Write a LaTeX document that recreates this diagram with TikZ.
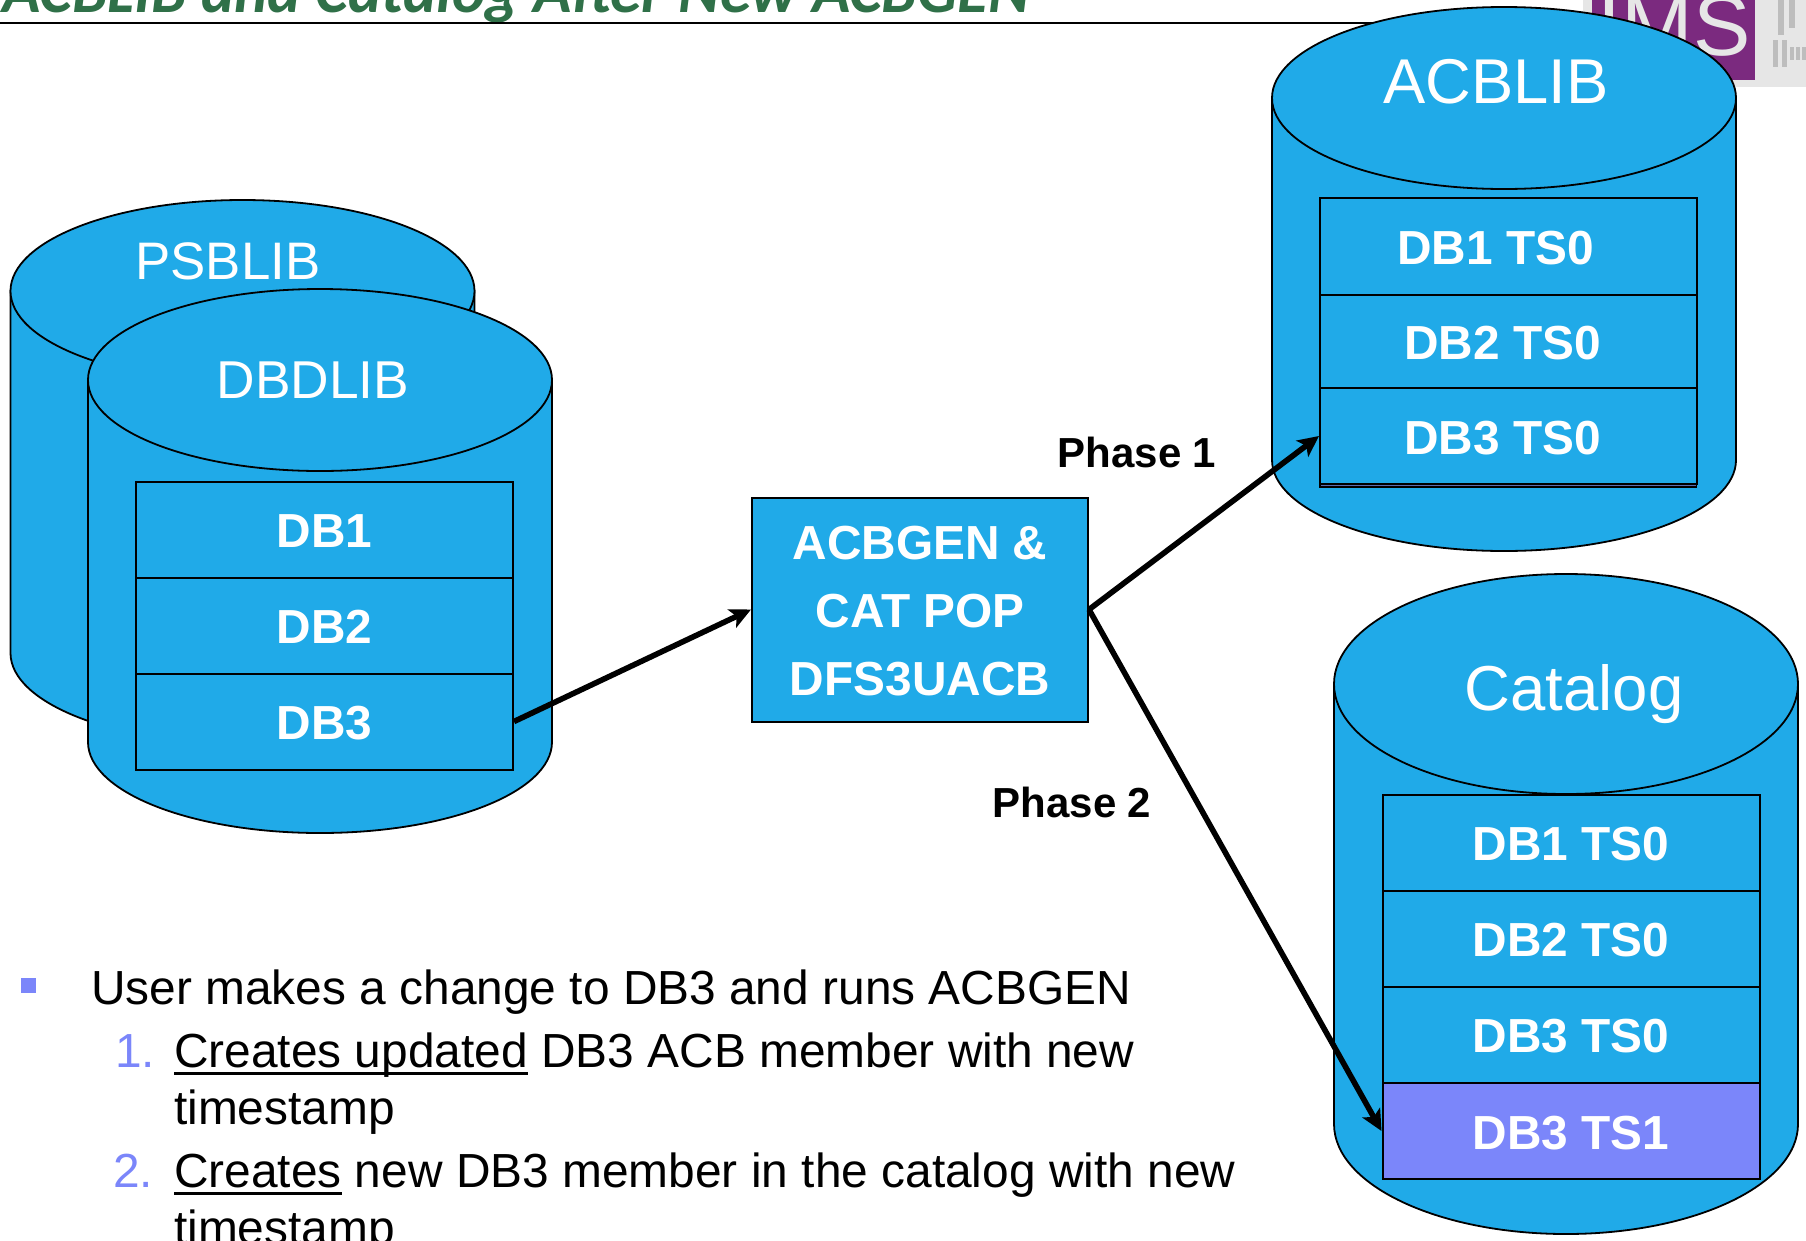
\documentclass[tikz,border=0pt]{standalone}
\usepackage{fontspec}
\setmainfont{Liberation Sans}
\newfontfamily\titlefont{Carlito}
\usetikzlibrary{arrows.meta}
\definecolor{cylblue}{HTML}{20AAE8}
\definecolor{rowpurple}{HTML}{7B86FA}
\definecolor{shadowpurple}{HTML}{5B6BB0}
\definecolor{titlegreen}{HTML}{2F7048}
\definecolor{logopurple}{HTML}{7B2A7F}
\definecolor{logogray}{HTML}{E6E6E6}
\definecolor{barsgray}{HTML}{BDBDBD}
\newcommand\fsz[1]{\fontsize{#1}{#1}\selectfont}
\newcommand\ulx[1]{\setbox0=\hbox{#1}\rlap{\vrule width\wd0 height -5pt depth 8pt}\box0\relax}
\newcommand\cylshape[5]{% cx, top y, rx, ry, bottom y
  \filldraw[cylbody] ({#1-#3},{#2+#4}) -- ({#1-#3},{#5-#4})
     arc[start angle=180,end angle=360,x radius=#3pt,y radius=#4pt]
     -- ({#1+#3},{#2+#4}) -- cycle;
  \filldraw[cylbody] (#1,{#2+#4}) ellipse[x radius=#3pt,y radius=#4pt];
}
\tikzset{
  cylbody/.style={fill=cylblue,draw=black,line width=1.8pt},
  rowbox/.style={draw=black,fill=cylblue,line width=2pt,minimum width=377pt,inner sep=0pt,
     text=white,text height=36.5pt,text depth=0pt,font=\bfseries\fsz{47.8}},
  cyllabel/.style={text=white,inner sep=0pt,anchor=base},
  flow/.style={draw=black,line width=5.6pt,-{Stealth[length=21pt,width=20pt,inset=5pt]}},
  phase/.style={font=\bfseries\fsz{42},inner sep=0pt,anchor=base},
  body/.style={font=\fsz{47.85},inner sep=0pt,anchor=base west},
  num/.style={font=\fsz{47.85},text=rowpurple,inner sep=0pt,anchor=base west},
}
\begin{document}
\begin{tikzpicture}[x=1pt,y=-1pt]
\useasboundingbox (0,0) rectangle (1806,1240);
\clip (0,0) rectangle (1806,1240);
% page header
\node[font=\titlefont\bfseries\itshape\fsz{63.3},text=titlegreen,inner sep=0pt,anchor=base west] (title) at (2,12) {ACBLIB and Catalog After New ACBGEN};
\draw[line width=2pt] (0,23) -- (1806,23);
% logo
\fill[logogray] (1583,0) rectangle (1806,87);
\fill[logopurple] (1592,0) rectangle (1755,80);
\node[font=\fsz{86},text=logogray,inner sep=0pt,anchor=base east] (logo) at (1751,55) {IMS};
\fill[barsgray] (1773,40) rectangle (1778,67);
\fill[barsgray] (1782,40) rectangle (1787,67);
\fill[barsgray] (1790,47) rectangle (1794,60);
\fill[barsgray] (1796,47) rectangle (1800,60);
\fill[barsgray] (1802,47) rectangle (1806,60);
\fill[barsgray] (1778,0) rectangle (1784,35);
\fill[barsgray] (1789,0) rectangle (1795,28);
% cylinders
\cylshape{242.5}{200}{232}{91}{744}
\cylshape{320}{289}{232}{91}{833}
\cylshape{1504}{7}{232}{91}{551}
\cylshape{1566}{574}{232}{110}{1234}
\node[cyllabel,font=\fsz{52.8}] (psblib) at (228,279) {PSBLIB};
\node[cyllabel,font=\fsz{53.3}] (dbdlib) at (313,398.5) {DBDLIB};
\node[cyllabel,font=\fsz{63.3}] (acblib) at (1496,103) {ACBLIB};
\node[cyllabel,font=\fsz{63.5}] (catalog) at (1574,710) {Catalog};
% DBDLIB rows
\node[rowbox,minimum height=96pt] (db1) at (324.5,529.5) {DB1};
\node[rowbox,minimum height=96pt] (db2) at (324.5,625.5) {DB2};
\node[rowbox,minimum height=96pt] (db3) at (324.5,721.5) {DB3};
% ACBLIB rows
\draw[fill=shadowpurple,line width=1.8pt] (1320,440) rectangle (1696.5,487);
\node[rowbox,minimum height=97pt] (acb1) at (1508.5,246.5) {\kern-26pt DB1 TS0};
\node[rowbox,minimum height=93pt] (acb2) at (1508.5,341.5) {\kern-12pt DB2 TS0};
\node[rowbox,minimum height=96pt] (acb3) at (1508.5,436) {\kern-12pt DB3 TS0};
% Catalog rows
\node[rowbox,minimum height=96pt] (cat1) at (1571,842.5) {DB1 TS0};
\node[rowbox,minimum height=96pt] (cat2) at (1571,938.5) {DB2 TS0};
\node[rowbox,minimum height=96pt] (cat3) at (1571,1034.5) {DB3 TS0};
\node[rowbox,minimum height=96pt,fill=rowpurple] (cat4) at (1571,1131) {DB3 TS1};
% process box
\node[draw=black,fill=cylblue,line width=2pt,minimum width=336pt,minimum height=224pt,inner sep=0pt,
  text=white,align=center,font=\bfseries\fontsize{47.8}{68}\selectfont] (acbgen) at (920,609.5) {\rule{0pt}{36pt}ACBGEN \&\\CAT POP\\DFS3UACB};
% connectors
\draw[flow] (db3.east) -- (acbgen.west);
\draw[flow] (acbgen.east) -- (acb3.west);
\draw[flow] (acbgen.east) -- (cat4.west);
% phase labels
\node[phase] (phase1) at (1137,467) {Phase 1};
\node[phase] (phase2) at (1072,817) {Phase 2};
% bullet text
\fill[rowpurple] (21,978) rectangle (36,993);
\node[body] (t1) at (91,1004) {User makes a change to DB3 and runs ACBGEN};
\node[num] (n1) at (115,1067) {1.};
\node[body] (t2) at (174,1067) {\ulx{Creates updated} DB3 ACB member with new};
\node[body] (t3) at (174,1124) {timestamp};
\node[num] (n2) at (113,1187) {2.};
\node[body] (t4) at (174,1187) {\ulx{Creates} new DB3 member in the catalog with new};
\node[body] (t5) at (174,1244) {timestamp};
\end{tikzpicture}
\end{document}
